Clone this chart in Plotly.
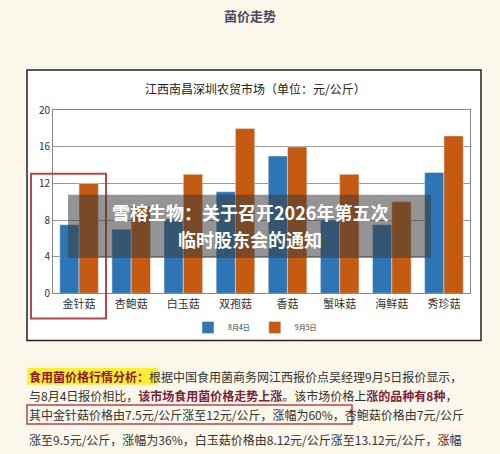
import plotly.graph_objects as go

categories = ["金针菇", "杏鲍菇", "白玉菇", "双孢菇", "香菇", "蟹味菇", "海鲜菇", "秀珍菇"]
aug4 = [7.5, 7.0, 8.12, 11.1, 15.0, 8.0, 7.5, 13.2]
sep5 = [12.0, 9.5, 13.0, 18.0, 16.0, 13.0, 10.0, 17.2]
y_ticks = [0, 4, 8, 12, 16, 20]

W, H = 500, 454
def py(p):
    q = (p - 9.3) / 0.9615
    return 1 - q / H
def px(p): return p / W

font = "Noto Sans CJK SC"
fig = go.Figure()
fig.add_bar(x=categories, y=aug4, name="8月4日", marker_color="#2e75b6")
fig.add_bar(x=categories, y=sep5, name="9月5日", marker_color="#c55a11")

fig.update_layout(
    width=W, height=H, margin=dict(l=0, r=0, t=0, b=0),
    paper_bgcolor="#fbf7ea", plot_bgcolor="white",
    barmode="group", bargap=0.26, bargroupgap=0,
    font=dict(family=font, size=11, color="#333"),
    xaxis=dict(domain=[px(53), px(470)], showgrid=False, showline=True, linecolor="#888",
               mirror=True, ticks="", tickfont=dict(size=11, color="#333")),
    yaxis=dict(domain=[py(293), py(111)], range=[0, 20], tickvals=y_ticks, showgrid=True,
               gridcolor="#999", showline=True, linecolor="#888", mirror=True,
               tickfont=dict(size=10, color="#333"), zeroline=False),
    legend=dict(orientation="h", x=0.51, xanchor="center", y=py(327), yanchor="middle",
                font=dict(size=7), bgcolor="rgba(0,0,0,0)", itemwidth=30),
    showlegend=True,
)

shapes = [
    dict(type="rect", xref="paper", yref="paper", x0=px(27), x1=px(481), y0=py(340), y1=py(71),
         fillcolor="white", line=dict(color="#222", width=1.5), layer="below"),
    dict(type="rect", xref="paper", yref="paper", x0=px(31), x1=px(106), y0=py(318), y1=py(174),
         line=dict(color="#b5474b", width=2)),
    dict(type="rect", xref="paper", yref="paper", x0=px(68), x1=px(431), y0=py(258), y1=py(195),
         fillcolor="rgba(60,60,60,0.55)", line=dict(width=0)),
    dict(type="rect", xref="paper", yref="paper", x0=px(27), x1=px(158), y0=py(384), y1=py(367),
         fillcolor="#ffee33", line=dict(width=0), layer="below"),
    dict(type="rect", xref="paper", yref="paper", x0=px(27), x1=px(352), y0=py(423), y1=py(404),
         line=dict(color="#b5474b", width=1.5)),
]
fig.update_layout(shapes=shapes)

ann = [
    (250, 17, "<b>菌价走势</b>", 13, "#4a4a5a", "center"),
    (255, 89, "江西南昌深圳农贸市场（单位：元/公斤）", 12, "#222", "center"),
    (250, 212, "<b>雪榕生物：关于召开2026年第五次</b>", 18, "white", "center"),
    (250, 239, "<b>临时股东会的通知</b>", 18, "white", "center"),
    (27, 376, "<span style='color:#8b1a1a'><b>食用菌价格行情分析：</b></span>根据中国食用菌商务网江西报价点吴经理9月5日报价显示，", 12, "#333", "left"),
    (27, 395, "与8月4日报价相比，<span style='color:#7b1f3a'><b>该市场食用菌价格走势上涨</b></span>。该市场价格上<span style='color:#7b1f3a'><b>涨的品种有8种</b></span>，", 12, "#333", "left"),
    (27, 414, "其中金针菇价格由7.5元/公斤涨至12元/公斤，涨幅为60%，杏鲍菇价格由7元/公斤", 12, "#333", "left"),
    (27, 438, "涨至9.5元/公斤，涨幅为36%，白玉菇价格由8.12元/公斤涨至13.12元/公斤，涨幅", 12, "#333", "left"),
]
for x, y, t, s, c, a in ann:
    fig.add_annotation(x=px(x), y=py(y), xref="paper", yref="paper", text=t, showarrow=False,
                       xanchor=a, yanchor="middle", font=dict(size=s, color=c, family=font))

fig.write_html("out.html", config={"responsive": False, "displayModeBar": False})
with open("out.html", encoding="utf-8") as f:
    html = f.read()
html = html.replace("<body>", "<body style=\"margin:0;overflow:hidden;background:#fbf7ea\">", 1)
with open("out.html", "w", encoding="utf-8") as f:
    f.write(html)
